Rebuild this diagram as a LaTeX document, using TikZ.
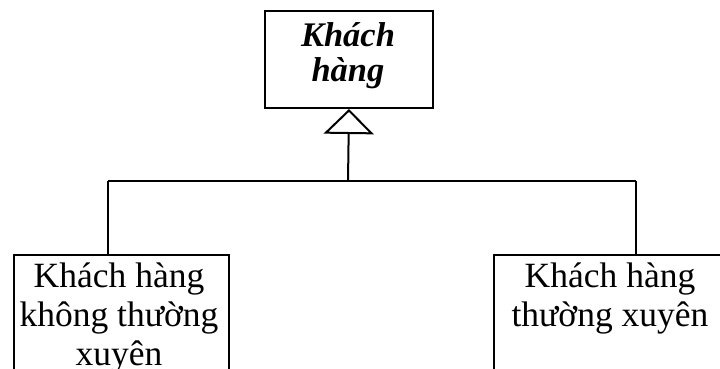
\documentclass[tikz,border=0pt]{standalone}
\usepackage{fontspec}
\setmainfont{Liberation Serif}
\usetikzlibrary{arrows.meta}
\begin{document}
\begin{tikzpicture}[x=1pt,y=-1pt,
  box/.style={draw=black,line width=2pt,inner sep=0pt},
  lbl/.style={font=\fontsize{35.5}{39}\selectfont,align=center,inner sep=0pt},
  conn/.style={draw=black,line width=2pt}]
\useasboundingbox (0,0) rectangle (720,368);
\clip (0,0) rectangle (720,368);
\fill[white] (0,0) rectangle (720,368);
% top class
\node[box,minimum width=168pt,minimum height=97pt,anchor=north west] (kh) at (264,10) {};
\node[lbl,anchor=base,font=\fontsize{34.5}{35}\selectfont\bfseries\itshape] (kht) at (348,81) {Khách\\hàng};
% subclasses
\node[box,minimum width=215pt,minimum height=150pt,anchor=north west] (l) at (13,253.5) {};
\node[lbl,anchor=base] (lt) at (119,365) {Khách hàng\\không thường\\xuyên};
\node[box,minimum width=234pt,minimum height=150pt,anchor=north west] (r) at (493,253.5) {};
\node[lbl,anchor=base] (rt) at (610,326) {Khách hàng\\thường xuyên};
% connectors
\coordinate (j) at (348,181);
\coordinate (jl) at (108,181);
\coordinate (jr) at (636,181);
\draw[conn] (jl) -- (jr);
\draw[conn] (jl) -- (jl |- l.north);
\draw[conn] (jr) -- (jr |- r.north);
\draw[conn,-{Triangle[open,length=25pt,width=50pt,line width=2pt]}] (j) -- (kh.south);
\end{tikzpicture}
\end{document}
